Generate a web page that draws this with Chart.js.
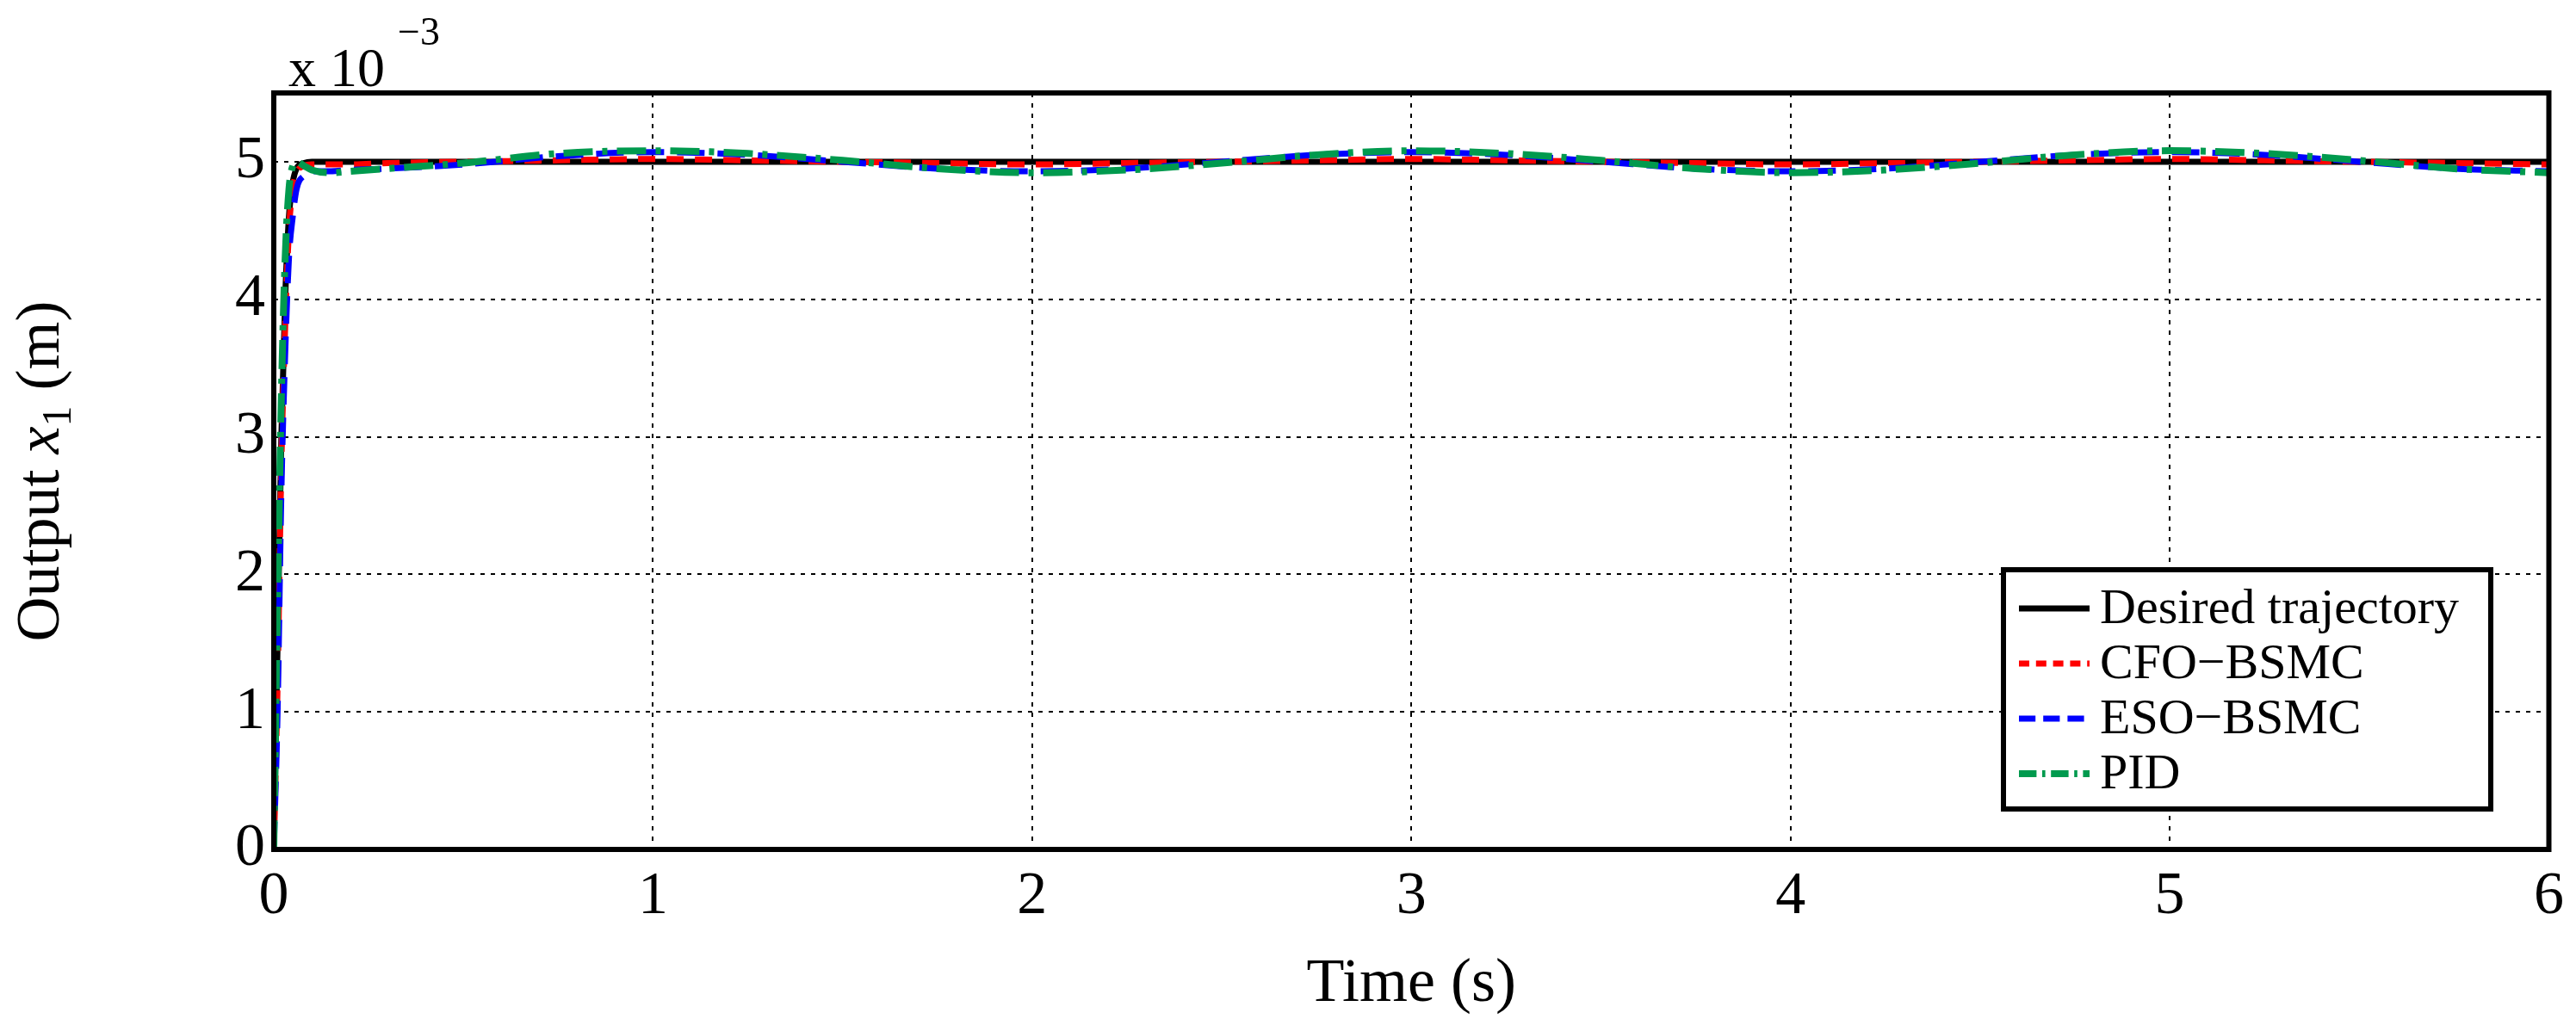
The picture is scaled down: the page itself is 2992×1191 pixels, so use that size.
<!DOCTYPE html>
<html lang="en">
<head>
  <meta charset="UTF-8" />
  <title>Output x1</title>
  <script src="https://cdn.jsdelivr.net/npm/chart.js"></script>
  <style>
    body { margin: 0; background: #fff; }
    #wrap { width: 2992px; height: 1191px; }
  </style>
</head>
<body>
  <div id="wrap"><canvas id="chart"></canvas></div>
  <script>
    const time = [0, 0.01, 0.02, 0.03, 0.04, 0.05, 0.06, 0.08, 0.1, 0.15, 0.2, 0.3, 0.5, 0.75, 1.0, 1.25, 1.5, 1.75, 2.0, 2.25, 2.5, 2.75, 3.0, 3.25, 3.5, 3.75, 4.0, 4.25, 4.5, 4.75, 5.0, 5.25, 5.5, 5.75, 6.0];
    const desired = [0, 1.5, 3.0, 4.0, 4.6, 4.85, 4.95, 4.99, 5, 5, 5, 5, 5, 5, 5, 5, 5, 5, 5, 5, 5, 5, 5, 5, 5, 5, 5, 5, 5, 5, 5, 5, 5, 5, 5];
    const cfo = [0, 1.2, 2.8, 3.8, 4.5, 4.8, 4.92, 4.97, 4.98, 4.98, 4.98, 4.99, 5.0, 5.01, 5.02, 5.01, 5.0, 4.99, 4.98, 4.99, 5.0, 5.01, 5.02, 5.01, 5.0, 4.99, 4.98, 4.99, 5.0, 5.01, 5.02, 5.01, 5.0, 4.99, 4.98];
    const eso = [0, 1.0, 2.6, 3.6, 4.3, 4.6, 4.8, 4.9, 4.93, 4.93, 4.94, 4.95, 4.98, 5.04, 5.07, 5.05, 5.0, 4.95, 4.93, 4.95, 5.0, 5.05, 5.07, 5.05, 5.0, 4.95, 4.93, 4.95, 5.0, 5.05, 5.07, 5.05, 5.0, 4.95, 4.93];
    const pid = [0, 1.8, 3.3, 4.3, 4.8, 4.97, 5.0, 4.97, 4.94, 4.92, 4.93, 4.95, 4.99, 5.06, 5.08, 5.06, 5.01, 4.95, 4.92, 4.94, 4.99, 5.05, 5.08, 5.06, 5.01, 4.95, 4.92, 4.94, 4.99, 5.05, 5.08, 5.06, 5.01, 4.95, 4.92];
    const labels = ['Desired trajectory', 'CFO\u2212BSMC', 'ESO\u2212BSMC', 'PID'];

    const FONT = '"Liberation Serif", "Times New Roman", serif';
    const pts = ys => time.map((t, i) => ({ x: t, y: ys[i] }));

    const styles = [
      { color: '#000000', dash: [], width: 7 },
      { color: '#ff0000', dash: [20, 13], width: 7 },
      { color: '#0000ff', dash: [32, 15], width: 7 },
      { color: '#009a4e', dash: [34, 11, 6, 11], width: 8 }
    ];
    const series = [desired, cfo, eso, pid];

    const decor = {
      id: 'decor',
      afterDraw(chart) {
        const ctx = chart.ctx;
        const a = chart.chartArea;
        ctx.save();
        ctx.strokeStyle = '#000';
        ctx.lineWidth = 6;
        ctx.strokeRect(a.left, a.top, a.right - a.left, a.bottom - a.top);
        ctx.fillStyle = '#000';
        ctx.textBaseline = 'alphabetic';
        ctx.font = '64px ' + FONT;
        ctx.fillText('x 10', 335, 100);
        ctx.font = '46px ' + FONT;
        ctx.fillText('\u22123', 462, 52);
        // y title
        ctx.translate(68, (a.top + a.bottom) / 2);
        ctx.rotate(-Math.PI / 2);
        const p1 = 'Output ', p3 = ' (m)';
        ctx.font = '72px ' + FONT;
        const w1 = ctx.measureText(p1).width;
        ctx.font = 'italic 72px ' + FONT;
        const w2 = ctx.measureText('x').width;
        ctx.font = '48px ' + FONT;
        const w3 = ctx.measureText('1').width;
        ctx.font = '72px ' + FONT;
        const w4 = ctx.measureText(p3).width;
        let x = -(w1 + w2 + w3 + w4) / 2;
        ctx.fillText(p1, x, 0); x += w1;
        ctx.font = 'italic 72px ' + FONT; ctx.fillText('x', x, 0); x += w2;
        ctx.font = '48px ' + FONT; ctx.fillText('1', x, 14); x += w3;
        ctx.font = '72px ' + FONT; ctx.fillText(p3, x, 0);
        ctx.restore();
        // legend
        ctx.save();
        const L = 2327, T = 662, R = 2893, B = 940;
        ctx.fillStyle = '#fff';
        ctx.fillRect(L, T, R - L, B - T);
        ctx.strokeStyle = '#000';
        ctx.lineWidth = 6;
        ctx.strokeRect(L, T, R - L, B - T);
        ctx.font = '58px ' + FONT;
        ctx.textBaseline = 'middle';
        labels.forEach((lab, i) => {
          const y = T + 45 + i * 64;
          const s = styles[i];
          ctx.strokeStyle = s.color;
          ctx.lineWidth = s.width;
          ctx.setLineDash(s.dash.length ? s.dash.map(v => v * 0.6) : []);
          ctx.beginPath(); ctx.moveTo(L + 18, y); ctx.lineTo(L + 100, y); ctx.stroke();
          ctx.setLineDash([]);
          ctx.fillStyle = '#000';
          ctx.fillText(lab, L + 112, y + 2);
        });
        ctx.restore();
      }
    };

    new Chart(document.getElementById('chart'), {
      type: 'line',
      data: {
        datasets: series.map((ys, i) => ({
          label: labels[i],
          data: pts(ys),
          borderColor: styles[i].color,
          borderDash: styles[i].dash,
          borderWidth: styles[i].width,
          pointRadius: 0,
          cubicInterpolationMode: 'monotone',
          fill: false,
          order: 4 - i
        }))
      },
      options: {
        responsive: true,
        maintainAspectRatio: false,
        animation: false,
        layout: { padding: { left: 0, right: 23, top: 108, bottom: 0 } },
        plugins: { legend: { display: false }, tooltip: { enabled: false } },
        scales: {
          x: {
            type: 'linear', min: 0, max: 6,
            ticks: { stepSize: 1, color: '#000', font: { family: FONT, size: 70 }, padding: 14, maxRotation: 0 },
            grid: { color: '#000', lineWidth: 2, drawTicks: false },
            border: { display: false, dash: [5, 7] },
            title: { display: true, text: 'Time (s)', color: '#000', font: { family: FONT, size: 72 }, padding: { top: 6 } },
            afterFit: s => { s.height = 1191 - 987; }
          },
          y: {
            min: 0, max: 5.5,
            afterBuildTicks: s => { s.ticks = [0, 1, 2, 3, 4, 5].map(v => ({ value: v })); },
            ticks: { color: '#000', font: { family: FONT, size: 70 }, padding: 10 },
            grid: { color: '#000', lineWidth: 2, drawTicks: false },
            border: { display: false, dash: [5, 7] },
            afterFit: s => { s.width = 318; }
          }
        }
      },
      plugins: [decor]
    });
  </script>
</body>
</html>
